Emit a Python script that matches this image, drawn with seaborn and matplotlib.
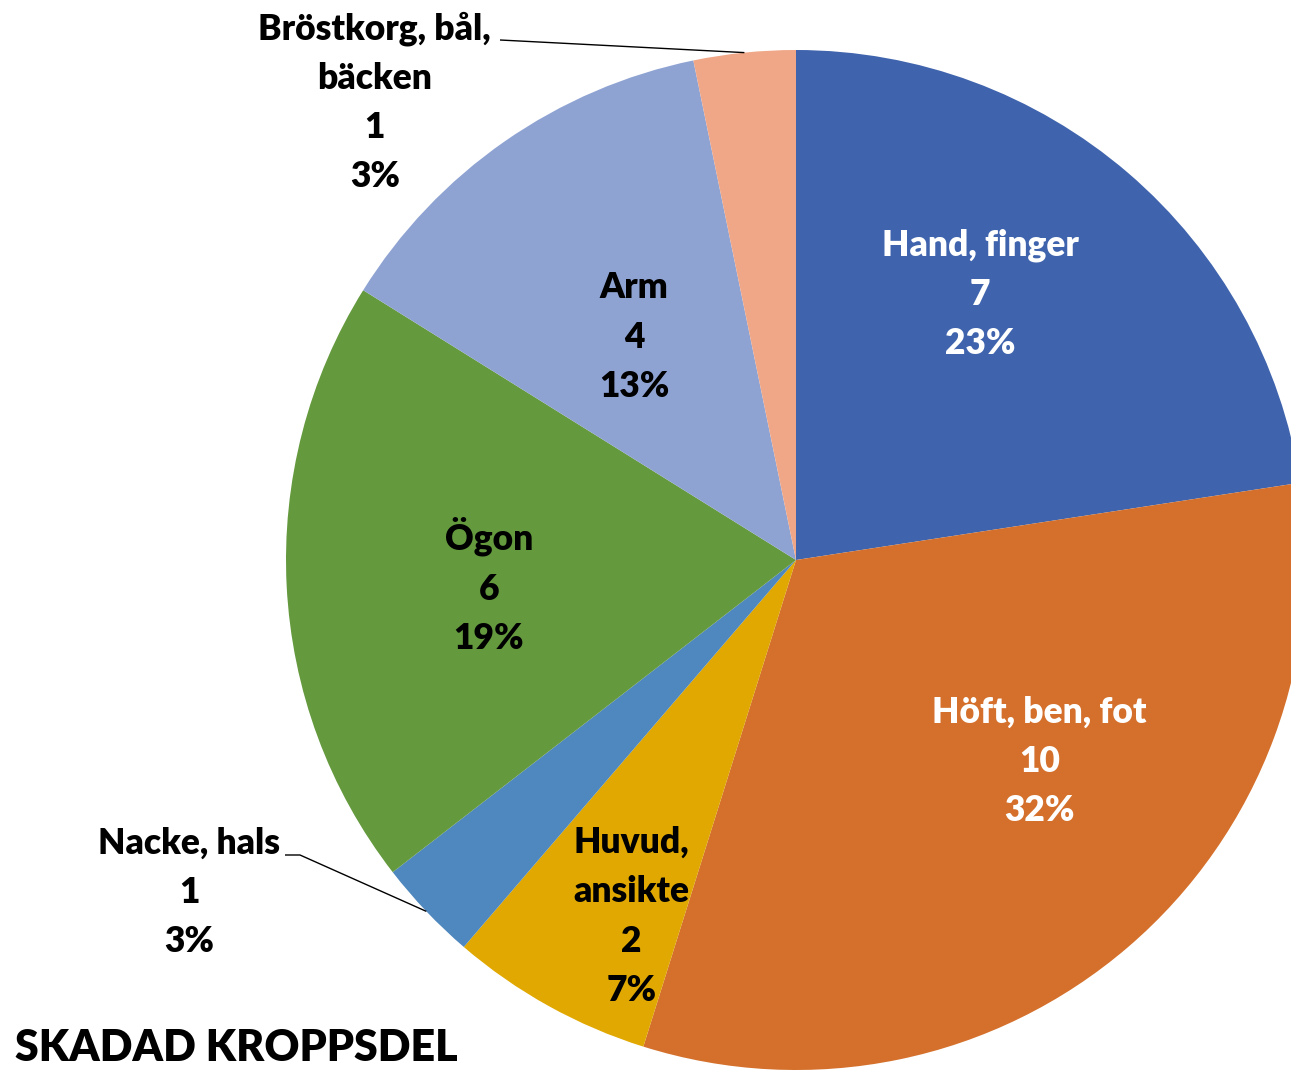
import numpy as np
import matplotlib
matplotlib.use("Agg")
import matplotlib.pyplot as plt
import seaborn as sns

# ---- data ----
categories = ["Hand, finger", "Höft, ben, fot", "Huvud,\nansikte", "Nacke, hals",
              "Ögon", "Arm", "Bröstkorg, bål,\nbäcken"]
values = [7, 10, 2, 1, 6, 4, 1]
percent_labels = ["23%", "32%", "7%", "3%", "19%", "13%", "3%"]
title = "SKADAD KROPPSDEL"

# ---- styles ----
colors = ["#3F64AD", "#D4702B", "#E0A800", "#4F88BE", "#64993E", "#8FA3D3", "#F0A788"]
text_colors = ["white", "white", "black", "black", "black", "black", "black"]
# label placement: (kind, radius, angle in degrees)
label_place = [
    ("in", 0.634, 55.3),
    ("in", 0.62, -39.6),
    ("in", 0.77, -114.8),
    ("out", 1.357, 208.7),
    ("in", 0.604, 184.8),
    ("in", 0.54, 126.0),
    ("out", 1.22, 132.6),
]

sns.set_theme(style="white")
plt.rcParams["font.family"] = ["Lato", "DejaVu Sans"]

W, H = 1291, 1071
fig = plt.figure(figsize=(W / 100, H / 100), dpi=100)
ax = fig.add_axes([0, 0, 1, 1])

palette = sns.color_palette(colors)
wedges, _ = ax.pie(values, colors=palette, startangle=90, counterclock=False,
                   wedgeprops=dict(linewidth=0))

R = 510.0
cx, cy = 796.0, 560.0
ax.set_xlim(-cx / R, (W - cx) / R)
ax.set_ylim(-(H - cy) / R, cy / R)
ax.set_aspect("auto")
ax.axis("off")

fs = 25.5
for w, cat, v, p, tc, (kind, r, ang) in zip(wedges, categories, values, percent_labels,
                                             text_colors, label_place):
    txt = f"{cat}\n{v}\n{p}"
    a = np.deg2rad(ang)
    x, y = r * np.cos(a), r * np.sin(a)
    ax.text(x, y, txt, ha="center", va="center", color=tc, fontsize=fs,
            fontweight="heavy", linespacing=1.6)

# leader lines (text end -> wedge edge)
def leader(widx, start, elbow):
    w = wedges[widx]
    mid = np.deg2rad((w.theta1 + w.theta2) / 2)
    ex, ey = np.cos(mid), np.sin(mid)
    ax.plot([start[0], elbow[0], ex], [start[1], elbow[1], ey], color="black", lw=1,
            solid_capstyle="butt")

leader(3, ((285 - cx) / R, (cy - 855) / R), ((300 - cx) / R, (cy - 855) / R))
leader(6, ((500 - cx) / R, (cy - 40) / R), ((500 - cx) / R, (cy - 40) / R))

fig.text(15 / W, 1 - 1048 / H, title, ha="left", va="center", fontsize=31,
         fontweight="heavy", color="black")

fig.savefig("out.png", dpi=100)
